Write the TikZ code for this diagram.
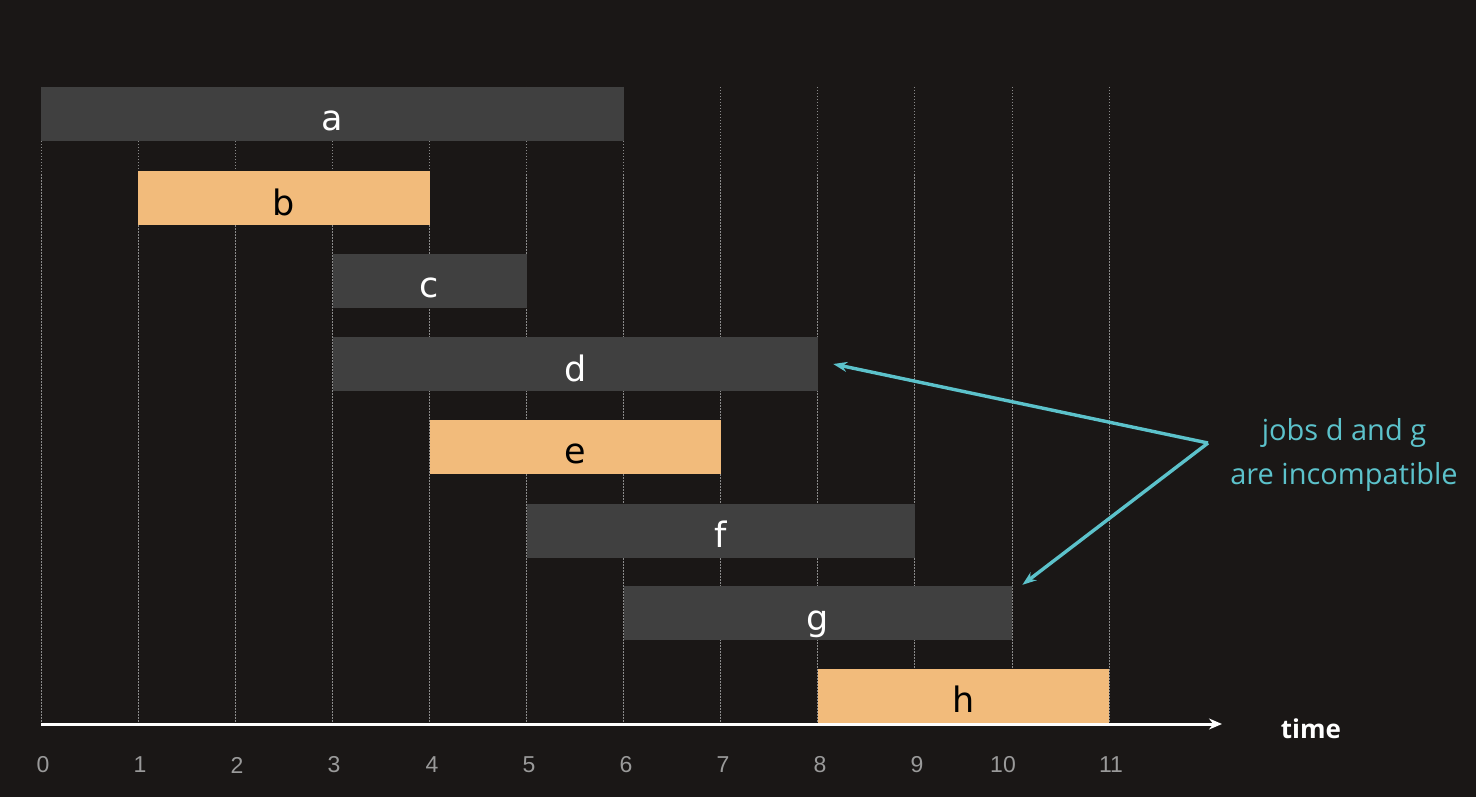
\documentclass[tikz,border=0pt]{standalone}
\usepackage{fontspec}
\setmainfont{DejaVu Sans}
\newfontfamily\numfont{Liberation Sans}
\newfontfamily\capfont{Open Sans}
\usetikzlibrary{arrows.meta}
\definecolor{bgc}{HTML}{1A1716}
\definecolor{darkbar}{HTML}{404040}
\definecolor{orangebar}{HTML}{F2BB7B}
\definecolor{gridc}{HTML}{8A8A8A}
\definecolor{numc}{HTML}{9A9A9A}
\definecolor{cyanc}{HTML}{5CC2CB}
\tikzset{
  job/.style={draw=none, inner sep=0pt, minimum height=54pt, anchor=west,
    font=\fontsize{35}{40}\selectfont, text height=34pt, text depth=0pt},
  jobdark/.style={job, fill=darkbar, text=white},
  joborange/.style={job, fill=orangebar, text=black},
  gridline/.style={gridc, line width=0.9pt, dash pattern=on 1.5pt off 1.5pt},
  tick/.style={numc, font=\numfont\fontsize{23}{27}\selectfont, inner sep=0pt},
  note/.style={cyanc, line width=3.4pt, -{Stealth[length=14pt,width=10pt]}}
}
\begin{document}
\begin{tikzpicture}[x=1pt,y=-1pt]
\fill[bgc] (0,0) rectangle (1476,797);
\useasboundingbox (0,0) rectangle (1476,797);
% grid
\foreach \i in {0,...,11}{
  \draw[gridline] ({41+97.1*\i},87) -- ({41+97.1*\i},724);
}
\foreach \i/\x in {0/43,1/140,2/237,3/334,4/432,5/529,6/626,7/723,8/820,9/917,10/1003,11/1111}{
  \node[tick] (t\i) at (\x,765) {\i};
}
% jobs
\node[jobdark,   minimum width=582.6pt] (a) at ({41+97.1*0},114) {a};
\node[joborange, minimum width=291.3pt] (b) at ({41+97.1*1},198) {b};
\node[jobdark,   minimum width=194.2pt] (c) at ({41+97.1*3},280.5) {c};
\node[jobdark,   minimum width=485.5pt] (d) at ({41+97.1*3},364) {d};
\node[joborange, minimum width=291.3pt] (e) at ({41+97.1*4},446.5) {e};
\node[jobdark,   minimum width=388.4pt] (f) at ({41+97.1*5},530.5) {f};
\node[jobdark,   minimum width=388.4pt] (g) at ({41+97.1*6},613) {g};
\node[joborange, minimum width=291.3pt] (h) at ({41+97.1*8},695.5) {h};
% axis
\coordinate (ax0) at (41,724);
\coordinate (ax1) at (1222,724);
\draw[white, line width=3pt, -{Stealth[length=13pt,width=11pt]}] (ax0) -- (ax1);
\node[white, font=\capfont\bfseries\fontsize{26}{30}\selectfont, inner sep=0pt] (time) at (1311,729) {time};
% note
\node[cyanc, font=\capfont\fontsize{29}{44}\selectfont, align=center, inner sep=0pt] (note) at (1344,455) {jobs d and g\\are incompatible};
\coordinate (v) at (1208,443);
\coordinate (tipd) at ([xshift=15pt]d.east);
\coordinate (tipg) at ([xshift=10pt,yshift=1pt]g.north east);
\draw[note] (v) -- (tipd);
\draw[note] (v) -- (tipg);
\end{tikzpicture}
\end{document}
